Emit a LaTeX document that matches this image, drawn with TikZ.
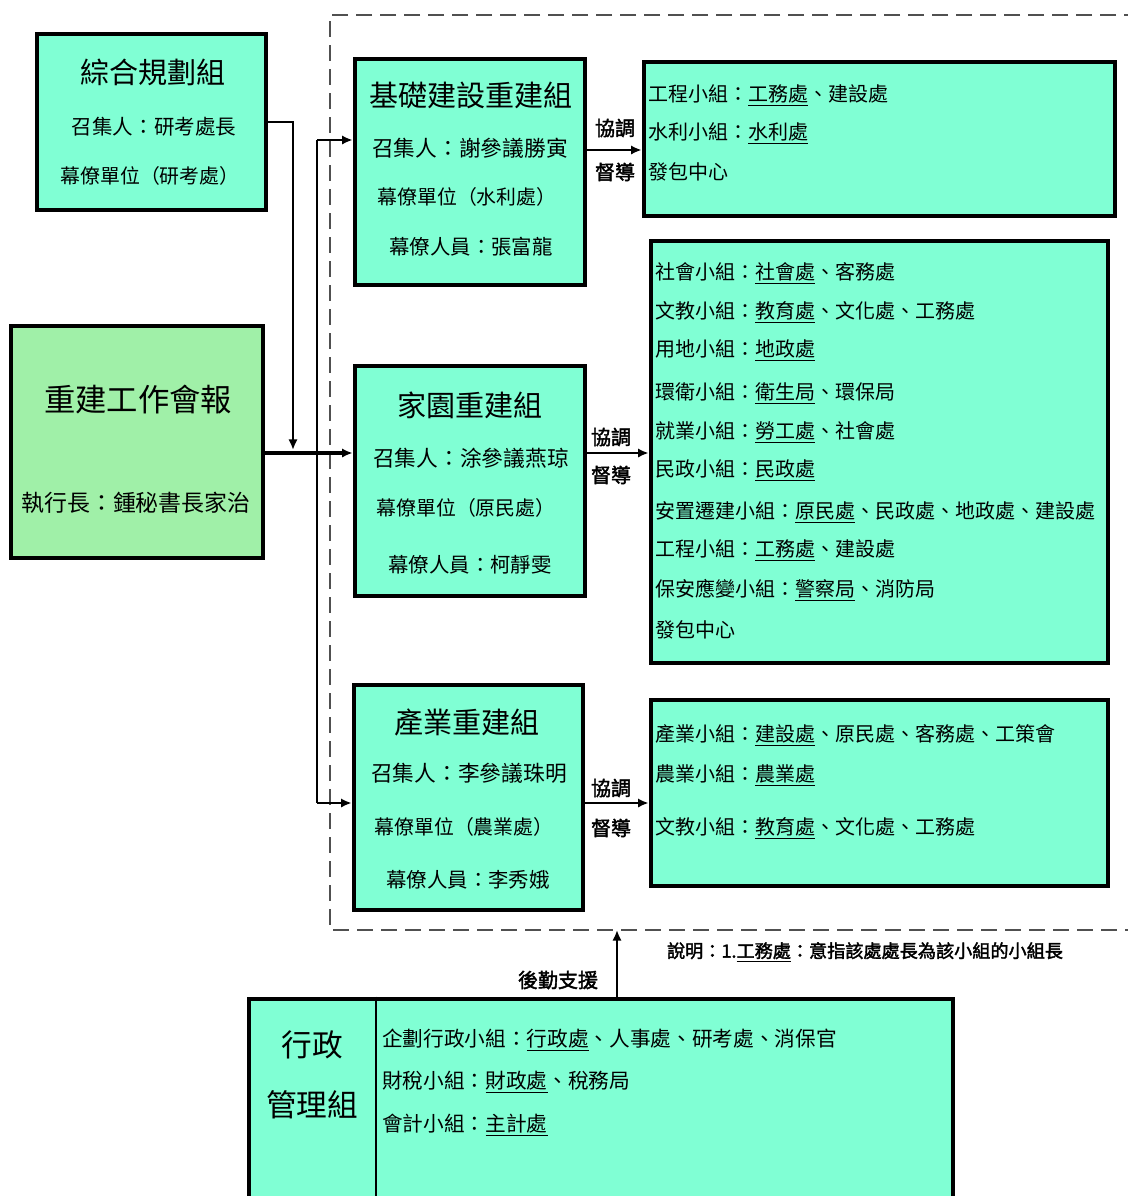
\documentclass[tikz,border=0pt]{standalone}
\usepackage{fontspec}
\setmainfont{Noto Sans CJK TC}[AutoFakeBold=2]
\usetikzlibrary{arrows.meta,fit}
\definecolor{aqua}{RGB}{128,255,212}
\definecolor{hgreen}{RGB}{160,240,168}
\definecolor{dashgray}{RGB}{80,80,80}
\begin{document}
\begin{tikzpicture}[x=0.75pt,y=-0.75pt,
  box/.style={draw=black,line width=3.5pt,fill=aqua,inner sep=0pt},
  tx/.style={inner sep=0pt,font=\fontsize{#1pt}{#1pt}\selectfont},
  txb/.style={inner sep=0pt,font=\fontsize{#1pt}{#1pt}\selectfont\bfseries},
  arr/.style={line width=2.2pt,-{Latex[length=8pt,width=7pt]}},
  frame/.style={draw=dashgray,line width=2.2pt,dash pattern=on 12pt off 6pt}]
\useasboundingbox (0,0) rectangle (1128,1196);
\fill[white] (0,0) rectangle (1128,1196);

% dashed frame
\draw[frame] (1140,15) -- (330,15) -- (330,930) -- (1140,930);

% boxes
\node[box,fit={(37,34) (266,210)}] (zh) {};
\node[box,fill=hgreen,fit={(11,326) (263,558)}] (hui) {};
\node[box,fit={(355,59) (585,285)}] (jc) {};
\node[box,fit={(355,366) (585,596)}] (jy) {};
\node[box,fit={(354,685) (583,910)}] (cy) {};
\node[box,fit={(644,62) (1115,216)}] (r1) {};
\node[box,fit={(651,241) (1108,663)}] (r2) {};
\node[box,fit={(651,700) (1108,886)}] (r3) {};
\node[box,fit={(249,999) (953,1210)}] (xz) {};
\coordinate (dv) at (376,0);
\draw[line width=2pt] (xz.north -| dv) -- (xz.south -| dv);

% connectors
\coordinate (j1) at (293,450);
\coordinate (m) at (0,453);
\coordinate (bt) at (317,140);
\coordinate (bb) at (317,803);
\draw[arr] (zh.east) -| (j1);
\draw[arr,line width=3.2pt] (hui.east |- m) -- (jy.west |- m);
\draw[line width=2.2pt] (bt) -- (bb);
\draw[arr] (bt) -- (jc.west |- bt);
\draw[arr] (bb) -- (cy.west |- bb);
\coordinate (a1) at (0,150);
\coordinate (a2) at (0,453);
\coordinate (a3) at (0,803);
\draw[arr] (jc.east |- a1) -- (r1.west |- a1);
\draw[arr] (jy.east |- a2) -- (r2.west |- a2);
\draw[arr] (cy.east |- a3) -- (r3.west |- a3);
\coordinate (sup) at (617,930);
\draw[arr] (xz.north -| sup) -- (sup);

% 綜合規劃組
\node[tx=21.8] (zh1) at (153,72) {綜合規劃組};
\node[tx=15.4] (zh2) at (154,127) {召集人：研考處長};
\node[tx=14.9] (zh3) at (150,176) {幕僚單位（研考處）};

% 重建工作會報
\node[tx=23.5] (hui1) at (138,400) {重建工作會報};
\node[tx=17.2] (hui2) at (136,503) {執行長：鍾秘書長家治};

% 基礎建設重建組
\node[tx=21.8] (jc1) at (471,95) {基礎建設重建組};
\node[tx=16.3] (jc2) at (470,148) {召集人：謝參議勝寅};
\node[tx=14.9] (jc3) at (467,197) {幕僚單位（水利處）};
\node[tx=15.3] (jc4) at (471,247) {幕僚人員：張富龍};

% 家園重建組
\node[tx=21.8] (jy1) at (470,405) {家園重建組};
\node[tx=16.3] (jy2) at (471,458) {召集人：涂參議燕琼};
\node[tx=14.9] (jy3) at (466,508) {幕僚單位（原民處）};
\node[tx=15.3] (jy4) at (470,565) {幕僚人員：柯靜雯};

% 產業重建組
\node[tx=21.8] (cy1) at (467,722) {產業重建組};
\node[tx=16.3] (cy2) at (469,773) {召集人：李參議珠明};
\node[tx=14.9] (cy3) at (464,827) {幕僚單位（農業處）};
\node[tx=15.3] (cy4) at (468,880) {幕僚人員：李秀娥};

% 協調督導
\node[txb=15] (c1a) at (615,128) {協調};
\node[txb=15] (c1b) at (615,172) {督導};
\node[txb=15] (c2a) at (611,437) {協調};
\node[txb=15] (c2b) at (611,475) {督導};
\node[txb=15] (c3a) at (611,788) {協調};
\node[txb=15] (c3b) at (611,828) {督導};

% r1
\node[tx=15,anchor=west] (r1a) at (648,95) {工程小組：\underline{工務處}、建設處};
\node[tx=15,anchor=west] (r1b) at (648,133) {水利小組：\underline{水利處}};
\node[tx=15,anchor=west] (r1c) at (648,172) {發包中心};

% r2
\node[tx=15,anchor=west] (r2a) at (655,273) {社會小組：\underline{社會處}、客務處};
\node[tx=15,anchor=west] (r2b) at (655,312) {文教小組：\underline{教育處}、文化處、工務處};
\node[tx=15,anchor=west] (r2c) at (655,350) {用地小組：\underline{地政處}};
\node[tx=15,anchor=west] (r2d) at (655,393) {環衛小組：\underline{衛生局}、環保局};
\node[tx=15,anchor=west] (r2e) at (655,432) {就業小組：\underline{勞工處}、社會處};
\node[tx=15,anchor=west] (r2f) at (655,470) {民政小組：\underline{民政處}};
\node[tx=15,anchor=west] (r2g) at (655,512) {安置遷建小組：\underline{原民處}、民政處、地政處、建設處};
\node[tx=15,anchor=west] (r2h) at (655,550) {工程小組：\underline{工務處}、建設處};
\node[tx=15,anchor=west] (r2i) at (655,590) {保安應變小組：\underline{警察局}、消防局};
\node[tx=15,anchor=west] (r2j) at (655,630) {發包中心};

% r3
\node[tx=15,anchor=west] (r3a) at (655,735) {產業小組：\underline{建設處}、原民處、客務處、工策會};
\node[tx=15,anchor=west] (r3b) at (655,775) {農業小組：\underline{農業處}};
\node[tx=15,anchor=west] (r3c) at (655,828) {文教小組：\underline{教育處}、文化處、工務處};

% note and support
\node[txb=13.6] (note) at (865,952) {說明：1.\underline{工務處}：意指該處處長為該小組的小組長};
\node[txb=15] (sup1) at (558,980) {後勤支援};

% 行政管理組
\node[tx=23] (xz1) at (312,1045) {行政};
\node[tx=23] (xz2) at (312,1105) {管理組};
\node[tx=15.5,anchor=west] (xza) at (382,1040) {企劃行政小組：\underline{行政處}、人事處、研考處、消保官};
\node[tx=15.5,anchor=west] (xzb) at (382,1082) {財稅小組：\underline{財政處}、稅務局};
\node[tx=15.5,anchor=west] (xzc) at (382,1125) {會計小組：\underline{主計處}};
\end{tikzpicture}
\end{document}
